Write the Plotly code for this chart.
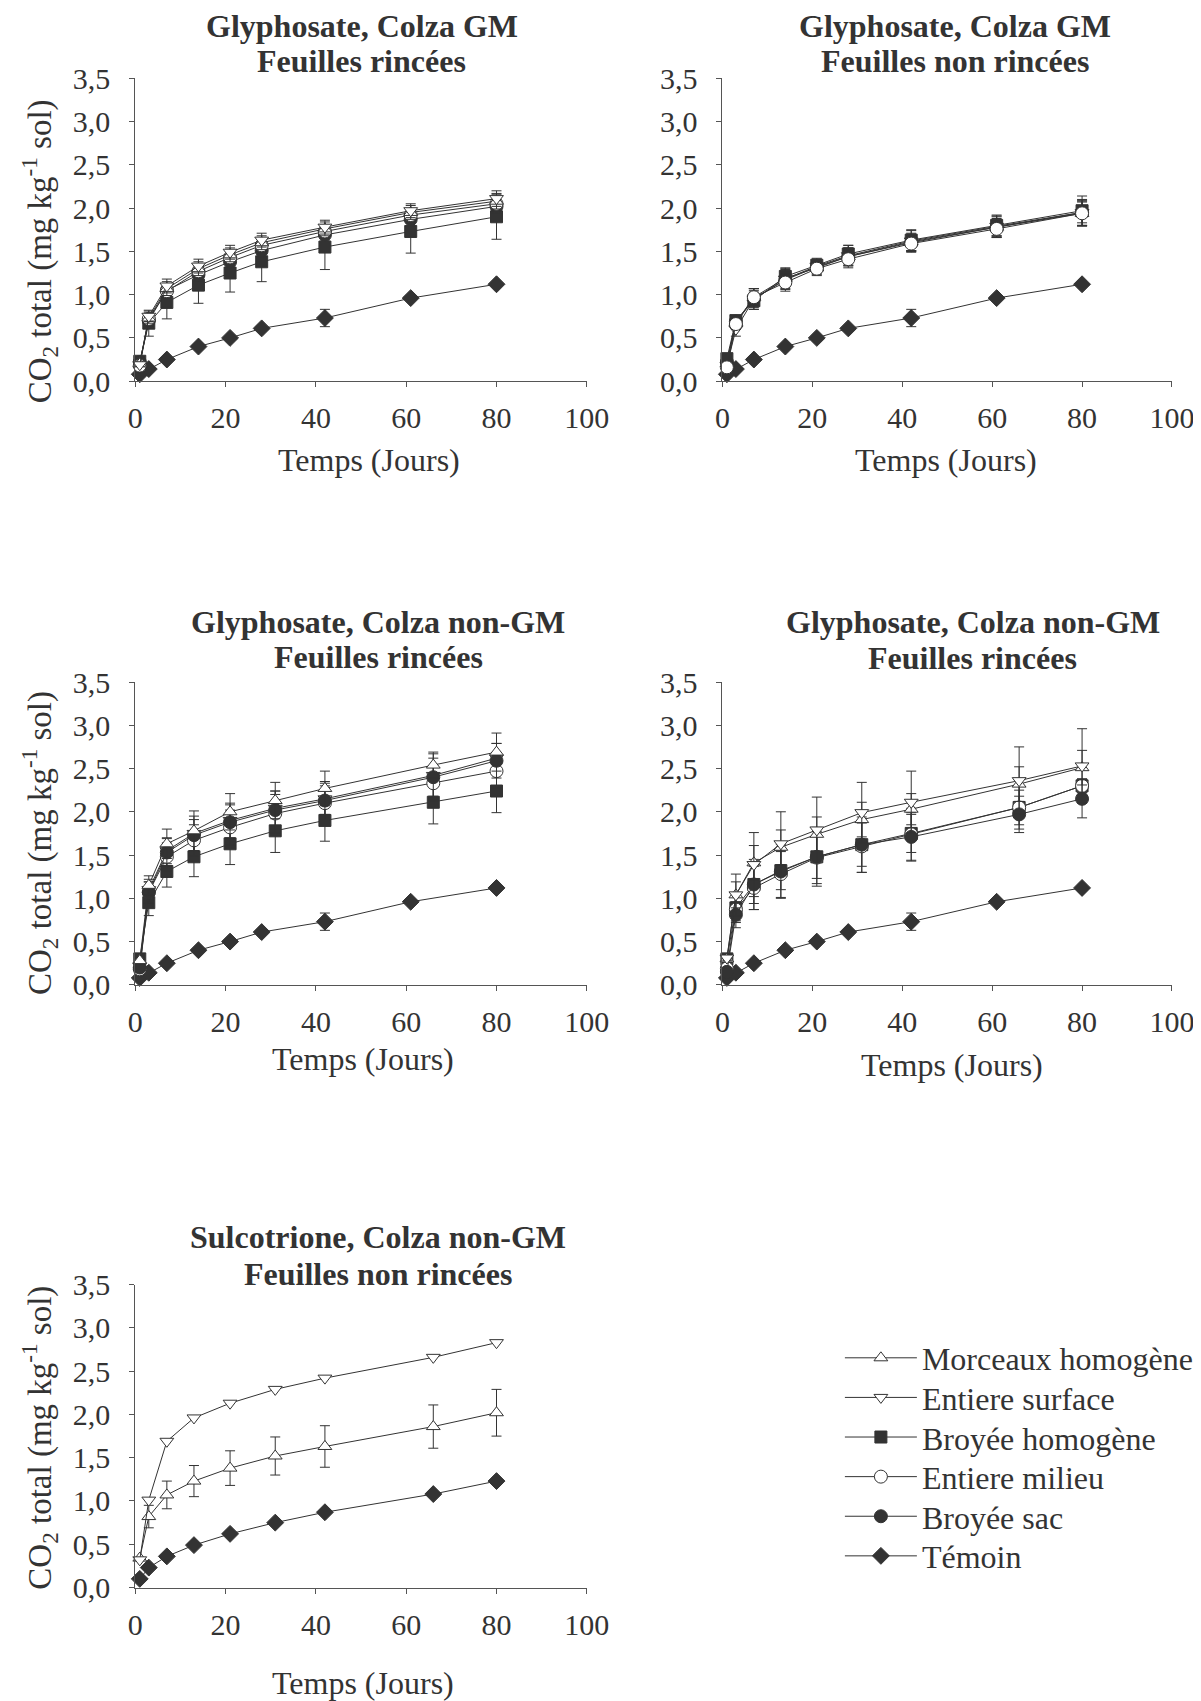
import plotly.graph_objects as go

# ---------------- data ----------------
days_a = [1, 3, 7, 14, 21, 28, 42, 61, 80]
days_b = [1, 3, 7, 13, 21, 31, 42, 66, 80]

series_names = ["Morceaux homogène", "Entiere surface", "Broyée homogène",
                "Entiere milieu", "Broyée sac", "Témoin"]

temoin = [0.08, 0.14, 0.25, 0.40, 0.50, 0.61, 0.73, 0.96, 1.12]
temoin_err = [0.01, 0.02, 0.02, 0.02, 0.02, 0.02, 0.10, 0.02, 0.02]

# Panel 1: Glyphosate, Colza GM, feuilles rincées (days_a)
p1_morceaux = [0.20, 0.73, 1.07, 1.30, 1.46, 1.60, 1.76, 1.95, 2.08]
p1_morceaux_err = [0.02, 0.06, 0.08, 0.08, 0.08, 0.08, 0.08, 0.08, 0.09]
p1_surface = [0.19, 0.75, 1.10, 1.33, 1.49, 1.63, 1.78, 1.97, 2.11]
p1_surface_err = [0.02, 0.06, 0.08, 0.08, 0.08, 0.08, 0.08, 0.08, 0.09]
p1_broyee_hom = [0.23, 0.67, 0.91, 1.11, 1.25, 1.38, 1.55, 1.73, 1.90]
p1_broyee_hom_err = [0.03, 0.15, 0.19, 0.21, 0.22, 0.23, 0.26, 0.25, 0.26]
p1_milieu = [0.18, 0.72, 1.04, 1.27, 1.43, 1.57, 1.73, 1.92, 2.05]
p1_milieu_err = [0.02, 0.05, 0.07, 0.07, 0.07, 0.07, 0.07, 0.07, 0.08]
p1_sac = [0.22, 0.70, 1.05, 1.23, 1.38, 1.51, 1.69, 1.87, 2.02]
p1_sac_err = [0.02, 0.06, 0.07, 0.07, 0.07, 0.07, 0.07, 0.08, 0.08]

# Panel 2: Glyphosate, Colza GM, feuilles non rincées (days_a)
p2_morceaux = [0.20, 0.68, 0.97, 1.19, 1.31, 1.44, 1.61, 1.78, 1.94]
p2_morceaux_err = [0.02, 0.06, 0.10, 0.10, 0.08, 0.10, 0.10, 0.12, 0.15]
p2_surface = [0.18, 0.60, 0.95, 1.18, 1.33, 1.45, 1.62, 1.79, 1.95]
p2_surface_err = [0.02, 0.08, 0.12, 0.12, 0.08, 0.12, 0.12, 0.12, 0.15]
p2_broyee_hom = [0.26, 0.70, 0.93, 1.21, 1.34, 1.47, 1.63, 1.80, 1.97]
p2_broyee_hom_err = [0.02, 0.05, 0.10, 0.10, 0.08, 0.10, 0.12, 0.12, 0.17]
p2_milieu = [0.16, 0.66, 0.97, 1.14, 1.30, 1.41, 1.59, 1.76, 1.94]
p2_milieu_err = [0.02, 0.06, 0.10, 0.10, 0.08, 0.10, 0.10, 0.10, 0.14]
p2_sac = [0.22, 0.69, 0.95, 1.17, 1.32, 1.44, 1.60, 1.78, 1.95]
p2_sac_err = [0.02, 0.06, 0.10, 0.10, 0.08, 0.10, 0.10, 0.10, 0.12]

# Panel 3: Glyphosate, Colza non-GM, feuilles rincées (days_b)
p3_morceaux = [0.28, 1.15, 1.63, 1.78, 2.00, 2.13, 2.27, 2.54, 2.69]
p3_morceaux_err = [0.03, 0.11, 0.17, 0.23, 0.21, 0.21, 0.20, 0.15, 0.22]
p3_surface = [0.22, 1.10, 1.55, 1.75, 1.90, 2.04, 2.15, 2.42, 2.62]
p3_surface_err = [0.03, 0.12, 0.15, 0.20, 0.20, 0.20, 0.18, 0.25, 0.17]
p3_broyee_hom = [0.30, 0.95, 1.31, 1.48, 1.63, 1.78, 1.90, 2.11, 2.24]
p3_broyee_hom_err = [0.03, 0.15, 0.18, 0.23, 0.24, 0.25, 0.24, 0.25, 0.25]
p3_milieu = [0.18, 1.07, 1.48, 1.67, 1.82, 1.98, 2.10, 2.33, 2.47]
p3_milieu_err = [0.03, 0.12, 0.16, 0.18, 0.20, 0.22, 0.20, 0.20, 0.20]
p3_sac = [0.20, 1.07, 1.53, 1.73, 1.88, 2.02, 2.13, 2.40, 2.59]
p3_sac_err = [0.03, 0.12, 0.16, 0.18, 0.20, 0.22, 0.22, 0.22, 0.20]

# Panel 4: Glyphosate, Colza non-GM, feuilles rincées (days_b)
p4_morceaux = [0.30, 1.04, 1.41, 1.59, 1.74, 1.91, 2.03, 2.32, 2.51]
p4_morceaux_err = [0.03, 0.15, 0.20, 0.20, 0.20, 0.20, 0.18, 0.20, 0.20]
p4_surface = [0.31, 1.04, 1.39, 1.63, 1.79, 1.99, 2.11, 2.36, 2.53]
p4_surface_err = [0.03, 0.24, 0.37, 0.37, 0.38, 0.35, 0.36, 0.39, 0.43]
p4_broyee_hom = [0.30, 0.89, 1.16, 1.32, 1.48, 1.62, 1.75, 2.05, 2.30]
p4_broyee_hom_err = [0.03, 0.15, 0.22, 0.22, 0.25, 0.25, 0.22, 0.20, 0.08]
p4_milieu = [0.19, 0.87, 1.12, 1.28, 1.47, 1.60, 1.74, 2.05, 2.30]
p4_milieu_err = [0.03, 0.15, 0.25, 0.27, 0.30, 0.30, 0.30, 0.25, 0.08]
p4_sac = [0.15, 0.81, 1.16, 1.31, 1.48, 1.62, 1.71, 1.97, 2.15]
p4_sac_err = [0.03, 0.15, 0.29, 0.31, 0.34, 0.32, 0.28, 0.21, 0.22]

# Panel 5: Sulcotrione, Colza non-GM, feuilles non rincées (days_b)
p5_morceaux = [0.34, 0.82, 1.07, 1.23, 1.38, 1.52, 1.63, 1.86, 2.02]
p5_morceaux_err = [0.00, 0.13, 0.16, 0.18, 0.20, 0.22, 0.24, 0.25, 0.27]
p5_surface = [0.32, 1.01, 1.69, 1.96, 2.13, 2.29, 2.42, 2.66, 2.83]
p5_temoin = [0.10, 0.23, 0.36, 0.49, 0.62, 0.75, 0.87, 1.08, 1.23]

title_line1 = ["Glyphosate, Colza GM", "Glyphosate, Colza GM",
               "Glyphosate, Colza non-GM", "Glyphosate, Colza non-GM",
               "Sulcotrione, Colza non-GM"]
title_line2 = ["Feuilles rincées", "Feuilles non rincées", "Feuilles rincées",
               "Feuilles rincées", "Feuilles non rincées"]
x_title = "Temps (Jours)"
y_title = "CO<sub>2</sub> total (mg kg<sup>-1</sup> sol)"
x_ticks = [0, 20, 40, 60, 80, 100]
y_ticks = [0.0, 0.5, 1.0, 1.5, 2.0, 2.5, 3.0, 3.5]

# ---------------- layout helpers ----------------
FW, FH = 1201, 1720
OFF = 8
KX, BX = 1.0224, -6.7
KY, BY = 1.0224, -18.4


def X(px):
    return (KX * px + BX - OFF) / FW


def Y(py):
    return 1 - (KY * py + BY - OFF) / FH


DARK = "#333333"
AXC = "#555555"
FONT = "Liberation Serif"

styles = {
    "Morceaux homogène": dict(symbol="triangle-up", color="white", size=12),
    "Entiere surface": dict(symbol="triangle-down", color="white", size=12),
    "Broyée homogène": dict(symbol="square", color=DARK, size=12),
    "Entiere milieu": dict(symbol="circle", color="white", size=13),
    "Broyée sac": dict(symbol="circle", color=DARK, size=13),
    "Témoin": dict(symbol="diamond", color=DARK, size=13),
}

boxes = [
    (134, 587, 79, 381),
    (723, 1174, 79, 381),
    (134, 587, 681, 983),
    (723, 1174, 681, 983),
    (134, 587, 1282, 1584),
]
title_pos = [(361, 27, 62), (956, 27, 62), (378, 621, 656), (974, 621, 657),
             (378, 1234, 1271)]
xtitle_pos = [(368, 460), (947, 460), (362, 1057), (953, 1063), (362, 1679)]
ytitle_pos = [(38, 252), None, (38, 842), None, (38, 1435)]
legend_rows = [1359, 1398.5, 1438, 1477.5, 1517, 1556.5]
legend_ids = ["legend", "legend2", "legend3", "legend4", "legend5", "legend6"]

fig = go.Figure()


def add(panel, name, x, y, err=None, legend=False):
    st = styles[name]
    ax = "" if panel == 1 else str(panel)
    tr = go.Scatter(
        x=x, y=y, mode="lines+markers", name=name,
        xaxis="x" + ax, yaxis="y" + ax,
        line=dict(color=DARK, width=1),
        marker=dict(symbol=st["symbol"], size=st["size"], color=st["color"],
                    line=dict(color=DARK, width=1)),
        legendgroup=name, showlegend=legend,
        legend=legend_ids[series_names.index(name)],
        cliponaxis=False,
    )
    if err is not None:
        tr.error_y = dict(type="data", array=err, visible=True, color=DARK,
                          thickness=1, width=5)
    fig.add_trace(tr)


# panel 1
add(1, "Témoin", days_a, temoin, temoin_err, legend=True)
add(1, "Broyée homogène", days_a, p1_broyee_hom, p1_broyee_hom_err, legend=True)
add(1, "Broyée sac", days_a, p1_sac, p1_sac_err, legend=True)
add(1, "Entiere milieu", days_a, p1_milieu, p1_milieu_err, legend=True)
add(1, "Morceaux homogène", days_a, p1_morceaux, p1_morceaux_err, legend=True)
add(1, "Entiere surface", days_a, p1_surface, p1_surface_err, legend=True)
# panel 2
add(2, "Témoin", days_a, temoin, temoin_err)
add(2, "Morceaux homogène", days_a, p2_morceaux, p2_morceaux_err)
add(2, "Entiere surface", days_a, p2_surface, p2_surface_err)
add(2, "Broyée sac", days_a, p2_sac, p2_sac_err)
add(2, "Broyée homogène", days_a, p2_broyee_hom, p2_broyee_hom_err)
add(2, "Entiere milieu", days_a, p2_milieu, p2_milieu_err)
# panel 3
add(3, "Témoin", days_a, temoin, temoin_err)
add(3, "Broyée homogène", days_b, p3_broyee_hom, p3_broyee_hom_err)
add(3, "Entiere surface", days_b, p3_surface, p3_surface_err)
add(3, "Entiere milieu", days_b, p3_milieu, p3_milieu_err)
add(3, "Broyée sac", days_b, p3_sac, p3_sac_err)
add(3, "Morceaux homogène", days_b, p3_morceaux, p3_morceaux_err)
# panel 4
add(4, "Témoin", days_a, temoin, temoin_err)
add(4, "Broyée homogène", days_b, p4_broyee_hom, p4_broyee_hom_err)
add(4, "Entiere milieu", days_b, p4_milieu, p4_milieu_err)
add(4, "Broyée sac", days_b, p4_sac, p4_sac_err)
add(4, "Morceaux homogène", days_b, p4_morceaux, p4_morceaux_err)
add(4, "Entiere surface", days_b, p4_surface, p4_surface_err)
# panel 5
add(5, "Témoin", days_b, p5_temoin)
add(5, "Morceaux homogène", days_b, p5_morceaux, p5_morceaux_err)
add(5, "Entiere surface", days_b, p5_surface)

layout = dict(
    width=FW, height=FH, autosize=False,
    margin=dict(l=0, r=0, t=0, b=0),
    paper_bgcolor="white", plot_bgcolor="white",
    separators=", ",
    font=dict(family=FONT, color=DARK, size=30),
)

# one single-entry legend per row, so the row spacing can follow the reference
LEG_X_S = 853          # legend anchor (screen units)
LEG_TOP_OFFSET = 32    # distance from legend top to the entry centre
for lid, row in zip(legend_ids, legend_rows):
    top_s = KY * row + BY - LEG_TOP_OFFSET
    layout[lid] = dict(
        x=(LEG_X_S - OFF) / FW, y=1 - (top_s - OFF) / FH,
        xanchor="left", yanchor="top",
        font=dict(family=FONT, size=32, color=DARK),
        bgcolor="rgba(0,0,0,0)", itemwidth=72,
    )

annotations = []
for i, (l, r, t, b) in enumerate(boxes):
    n = "" if i == 0 else str(i + 1)
    layout["xaxis" + n] = dict(
        domain=[X(l), X(r)], anchor="y" + n, range=[0, 100],
        tickvals=x_ticks, ticks="outside", ticklen=5, tickcolor=AXC,
        showline=True, linecolor=AXC, linewidth=1, showgrid=False,
        zeroline=False, tickfont=dict(size=30, family=FONT, color=DARK),
        ticklabelstandoff=5, fixedrange=True,
    )
    layout["yaxis" + n] = dict(
        domain=[Y(b), Y(t)], anchor="x" + n, range=[0, 3.5],
        tickvals=y_ticks, tickformat=".1f", ticks="outside", ticklen=5,
        tickcolor=AXC, showline=True, linecolor=AXC, linewidth=1,
        showgrid=False, zeroline=False,
        tickfont=dict(size=30, family=FONT, color=DARK),
        ticklabelstandoff=13, fixedrange=True,
    )
    tx, ty1, ty2 = title_pos[i]
    for txt, ty in ((title_line1[i], ty1), (title_line2[i], ty2)):
        annotations.append(dict(
            text="<b>" + txt + "</b>", x=X(tx), y=Y(ty),
            xref="paper", yref="paper", showarrow=False,
            xanchor="center", yanchor="middle",
            font=dict(family=FONT, size=32, color=DARK),
        ))
    xx, xy = xtitle_pos[i]
    annotations.append(dict(
        text=x_title, x=X(xx), y=Y(xy),
        xref="paper", yref="paper", showarrow=False,
        xanchor="center", yanchor="middle",
        font=dict(family=FONT, size=32, color=DARK),
    ))
    if ytitle_pos[i] is not None:
        yx, yy = ytitle_pos[i]
        annotations.append(dict(
            text=y_title, x=X(yx), y=Y(yy),
            xref="paper", yref="paper", showarrow=False, textangle=-90,
            xanchor="center", yanchor="middle",
            font=dict(family=FONT, size=33, color=DARK),
        ))

layout["annotations"] = annotations
fig.update_layout(**layout)
fig.write_html("out.html")
